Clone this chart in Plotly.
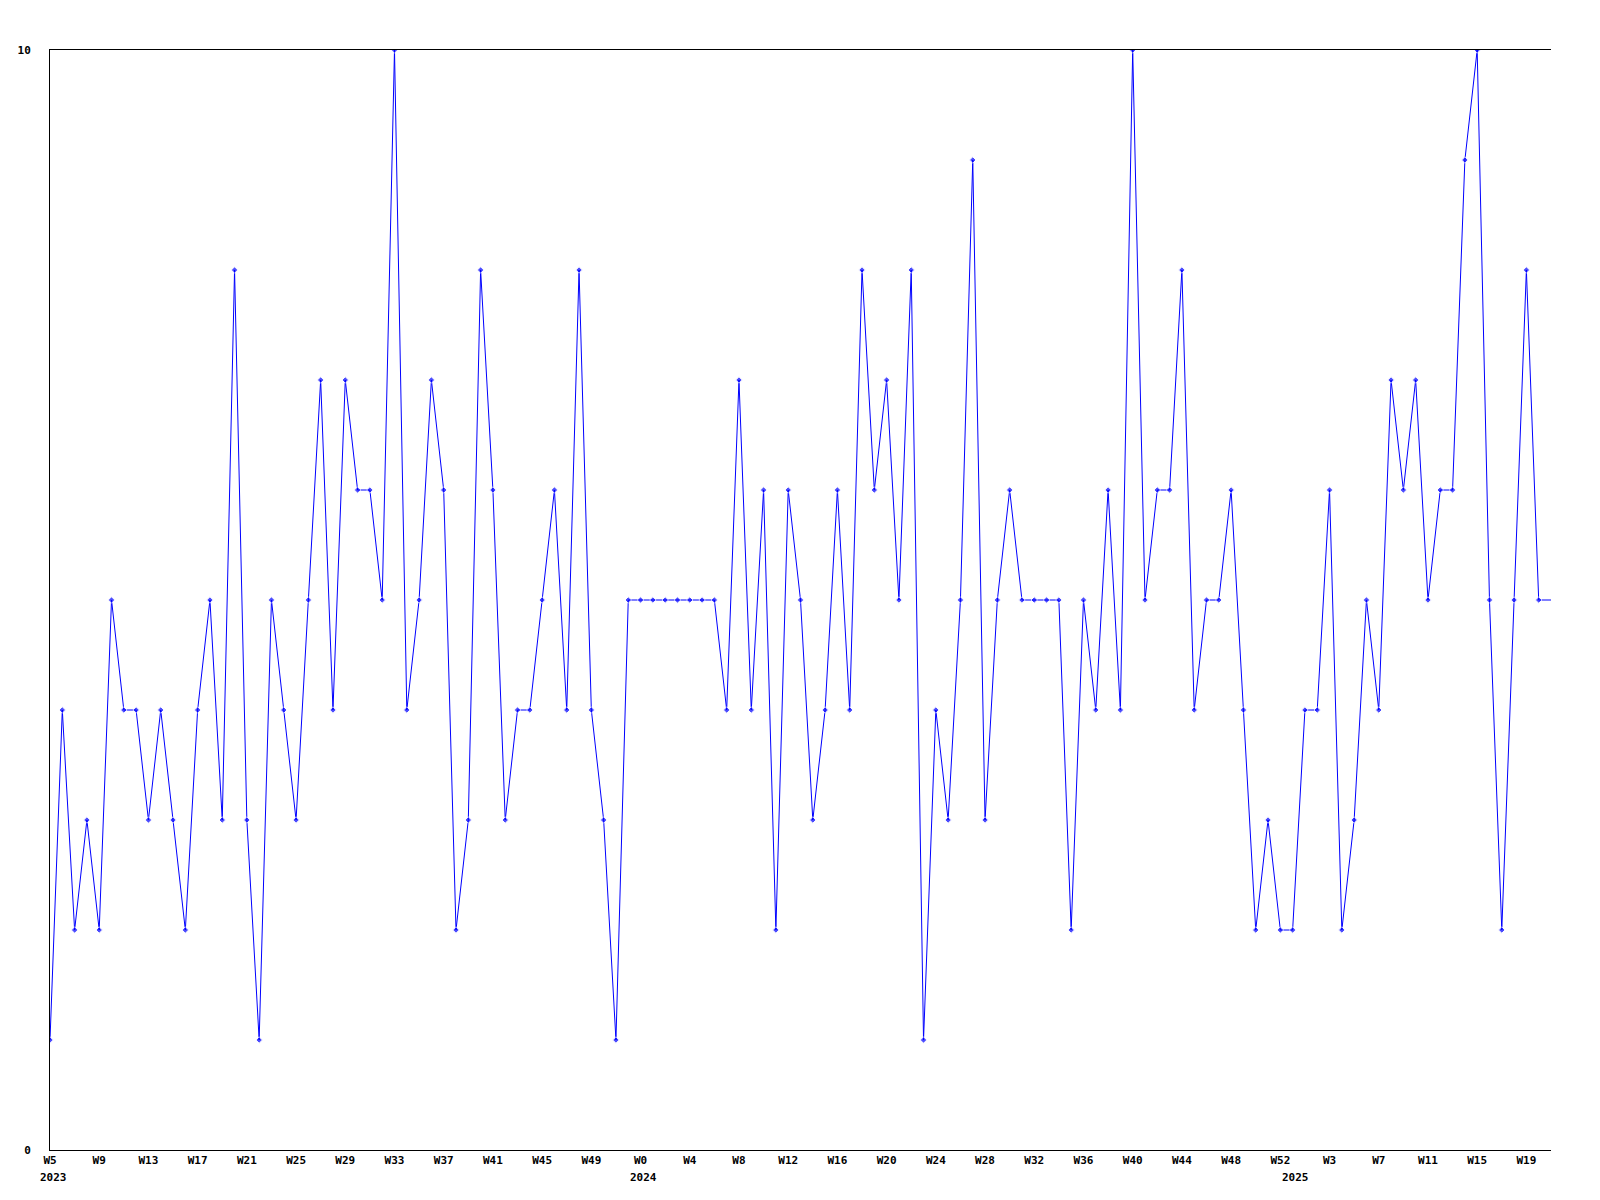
import plotly.graph_objects as go

# Weekly values (one per week, starting 2023 W5)
values = [1, 4, 2, 3, 2, 5, 4, 4, 3, 4, 3, 2, 4, 5, 3, 8, 3, 1, 5, 4, 3, 5,
          7, 4, 7, 6, 6, 5, 10, 4, 5, 7, 6, 2, 3, 8, 6, 3, 4, 4, 5, 6, 4,
          8, 4, 3, 1, 5, 5, 5, 5, 5, 5, 5, 5, 4, 7, 4, 6, 2, 6, 5, 3, 4,
          6, 4, 8, 6, 7, 5, 8, 1, 4, 3, 5, 9, 3, 5, 6, 5, 5, 5, 5, 2, 5,
          4, 6, 4, 10, 5, 6, 6, 8, 4, 5, 5, 6, 4, 2, 3, 2, 2, 4, 4, 6, 2,
          3, 5, 4, 7, 6, 7, 5, 6, 6, 9, 10, 5, 2, 5, 8, 5, 5]

tick_labels = ["W5", "W9", "W13", "W17", "W21", "W25", "W29", "W33",
               "W37", "W41", "W45", "W49",
               "W0", "W4", "W8", "W12", "W16", "W20", "W24", "W28",
               "W32", "W36", "W40", "W44", "W48", "W52",
               "W3", "W7", "W11", "W15", "W19"]

# Year labels and the week index where each year starts
year_labels = ["2023", "2024", "2025"]
year_start_week = [0, 48, 101]

x = list(range(len(values)))
tick_vals = [4 * k for k in range(len(tick_labels))]
marker_sizes = [5] * (len(values) - 1) + [0]

fig = go.Figure()
fig.add_trace(go.Scatter(
    x=x, y=values, mode="lines+markers",
    line=dict(color="#0000ff", width=1),
    marker=dict(symbol="diamond", size=marker_sizes, color="#0000ff"),
    showlegend=False,
))

tfont = dict(family="DejaVu Sans Mono", size=11, color="#000000", weight="bold")

for lbl, xs in zip(year_labels, year_start_week):
    fig.add_annotation(
        x=xs, y=0, xref="x", yref="paper", text=lbl, showarrow=False,
        xanchor="center", yanchor="middle", yshift=-27, xshift=3,
        font=tfont,
    )

fig.update_layout(
    width=1600, height=1200,
    margin=dict(l=42, r=57, t=42, b=58, autoexpand=False),
    paper_bgcolor="white", plot_bgcolor="white",
    font=dict(family="DejaVu Sans Mono", size=11, color="#000000"),
)
fig.update_xaxes(
    range=[0, len(values) - 1],
    tickmode="array", tickvals=tick_vals, ticktext=tick_labels,
    showgrid=False, zeroline=False,
    showline=True, linecolor="#000000", linewidth=1, mirror=True,
    ticks="", tickfont=tfont, automargin=False,
)
fig.update_yaxes(
    range=[0, 10],
    tickmode="array", tickvals=[0, 10], ticktext=["0", "10"],
    showgrid=False, zeroline=False,
    showline=True, linecolor="#000000", linewidth=1,
    ticks="", ticklabelstandoff=16, tickfont=tfont, automargin=False,
)

fig.write_html("out.html")
